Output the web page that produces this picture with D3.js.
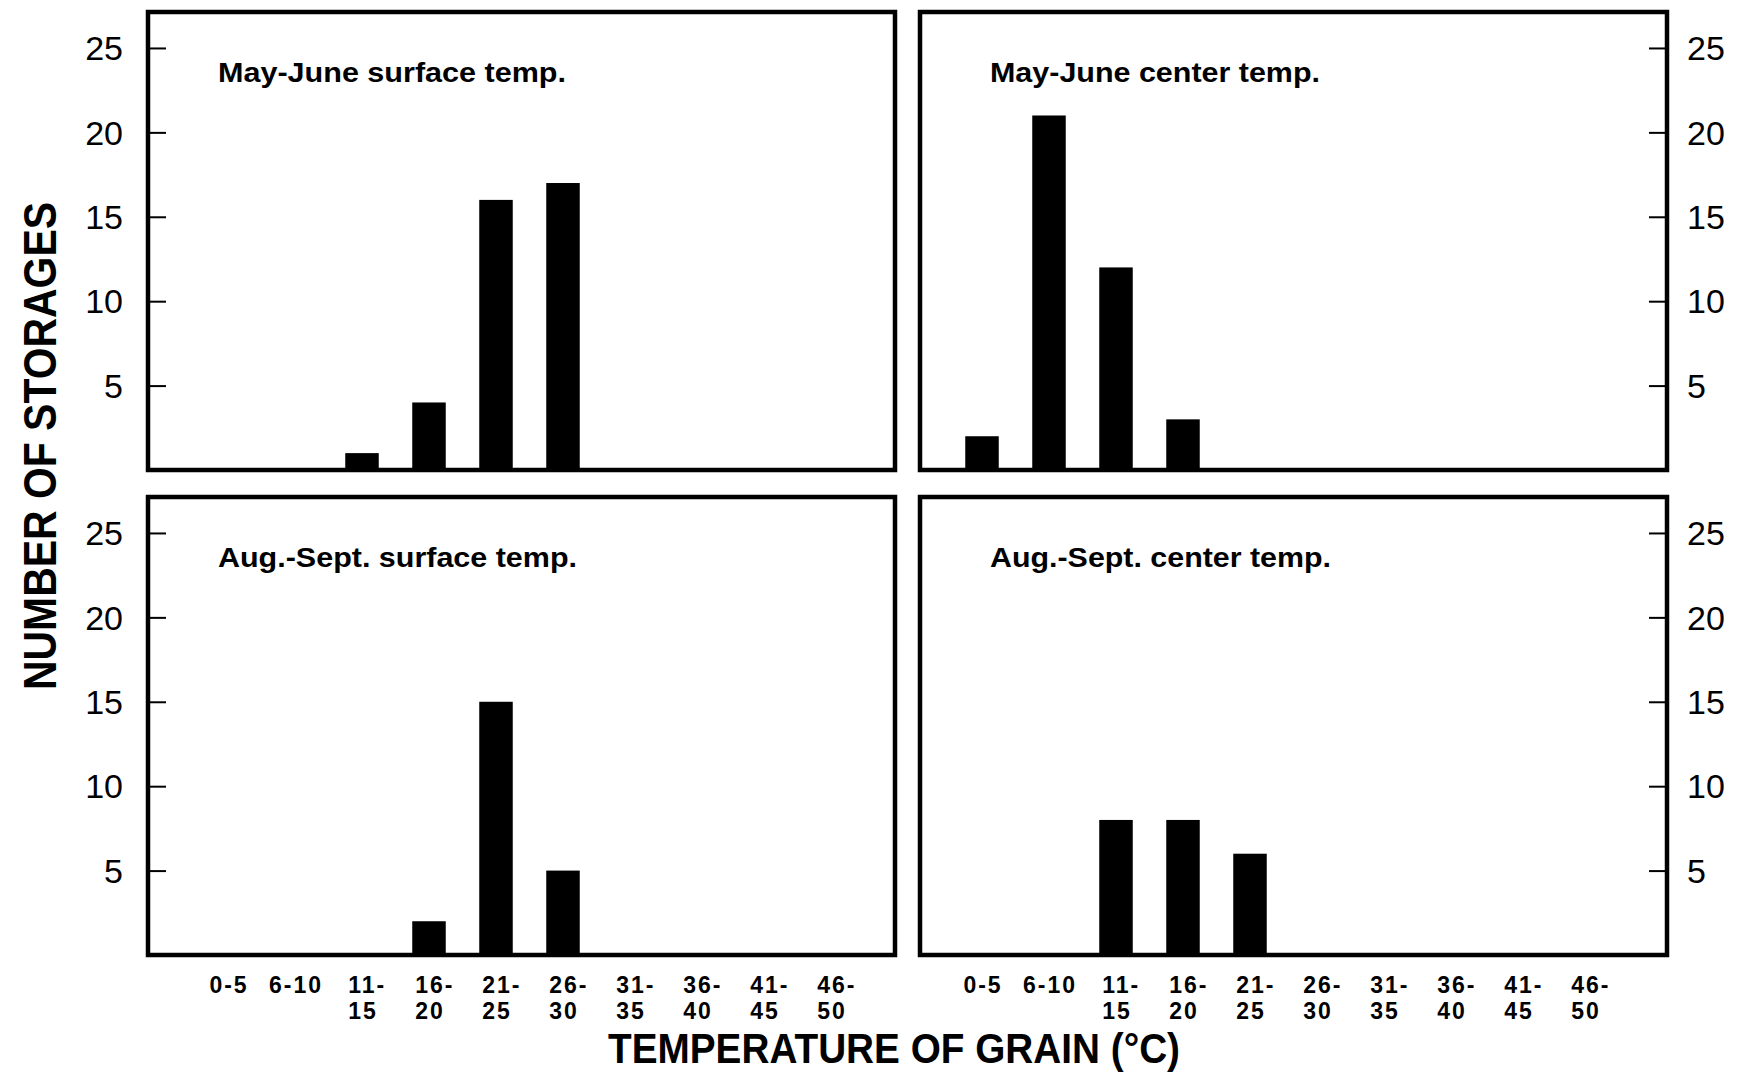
<!DOCTYPE html>
<html>
<head>
<meta charset="utf-8">
<script src="https://cdn.jsdelivr.net/npm/d3@7"></script>
<style>
  body { margin: 0; background: #fff; }
  text { font-family: "Liberation Sans", Arial, Helvetica, sans-serif; fill: #000; }
</style>
</head>
<body>
<div id="chart"></div>
<script>
// temperature classes (deg C)
var categories = ["0-5", "6-10", "11-15", "16-20", "21-25", "26-30", "31-35", "36-40", "41-45", "46-50"];

// number of storages in each class
var mayJuneSurface = [0, 0, 1, 4, 16, 17, 0, 0, 0, 0];
var mayJuneCenter  = [2, 21, 12, 3, 0, 0, 0, 0, 0, 0];
var augSeptSurface = [0, 0, 0, 2, 15, 5, 0, 0, 0, 0];
var augSeptCenter  = [0, 0, 8, 8, 6, 0, 0, 0, 0, 0];

var panelTitles = ["May-June surface temp.", "May-June center temp.",
                   "Aug.-Sept. surface temp.", "Aug.-Sept. center temp."];
var yTicks = [5, 10, 15, 20, 25];

var svgWidth = 1758;
var svgHeight = 1074;

var svg = d3.select("#chart")
  .append("svg")
  .attr("width", svgWidth)
  .attr("height", svgHeight);

// frame of each panel, and where its bars sit
var panels = [
  { values: mayJuneSurface, title: panelTitles[0], left: 148, right: 895, top: 12, bottom: 470, x0: 194.5, axis: "left", titleW: 348 },
  { values: mayJuneCenter,  title: panelTitles[1], left: 920, right: 1667, top: 12, bottom: 470, x0: 948.5, axis: "right", titleW: 330 },
  { values: augSeptSurface, title: panelTitles[2], left: 148, right: 895, top: 497, bottom: 955, x0: 194.5, axis: "left", titleW: 359, xLabels: true },
  { values: augSeptCenter,  title: panelTitles[3], left: 920, right: 1667, top: 497, bottom: 955, x0: 948.5, axis: "right", titleW: 341, xLabels: true }
];

var yMax = 27.13;

panels.forEach(function(p) {
  var g = svg.append("g");

  var x = d3.scaleBand()
    .domain(categories)
    .range([p.x0, p.x0 + 670])
    .paddingInner(0.5)
    .paddingOuter(0.25);

  var y = d3.scaleLinear()
    .domain([0, yMax])
    .range([p.bottom, p.top]);

  var data = categories.map(function(c, i) { return { cat: c, value: p.values[i] }; });

  // bars
  g.selectAll("rect.bar")
    .data(data.filter(function(d) { return d.value > 0; }))
    .enter()
    .append("rect")
    .attr("class", "bar")
    .attr("x", function(d) { return x(d.cat); })
    .attr("width", x.bandwidth())
    .attr("y", function(d) { return y(d.value); })
    .attr("height", function(d) { return y(0) - y(d.value); })
    .attr("fill", "#000");

  // y axis: ticks pointing inward, labels outside the frame
  var axis = p.axis === "left" ? d3.axisRight(y) : d3.axisLeft(y);
  var axisG = g.append("g")
    .attr("transform", "translate(" + (p.axis === "left" ? p.left : p.right) + ",0)")
    .call(axis.tickValues(yTicks).tickSize(18).tickFormat(""));
  axisG.select(".domain").remove();
  axisG.selectAll("line").attr("stroke", "#000").attr("stroke-width", 2);

  g.selectAll("text.ytick")
    .data(yTicks)
    .enter()
    .append("text")
    .attr("class", "ytick")
    .attr("x", p.axis === "left" ? p.left - 25 : p.right + 20)
    .attr("y", function(d) { return y(d); })
    .attr("dy", "0.36em")
    .attr("text-anchor", p.axis === "left" ? "end" : "start")
    .style("font-size", "34px")
    .text(function(d) { return d; });

  // frame
  g.append("rect")
    .attr("x", p.left)
    .attr("y", p.top)
    .attr("width", p.right - p.left)
    .attr("height", p.bottom - p.top)
    .attr("fill", "none")
    .attr("stroke", "#000")
    .attr("stroke-width", 4.5);

  // panel title
  g.append("text")
    .attr("x", p.left + 70)
    .attr("y", p.top + 70)
    .attr("textLength", p.titleW)
    .attr("lengthAdjust", "spacingAndGlyphs")
    .style("font-size", "28px")
    .style("font-weight", "bold")
    .text(p.title);

  // category labels under the lower panels
  if (p.xLabels) {
    categories.forEach(function(c) {
      var cx = x(c) + x.bandwidth() / 2;
      var parts = c.split("-");
      var twoLines = parts[0].length + parts[1].length > 3;
      var lab = g.append("text")
        .style("font-size", "23px")
        .style("font-weight", "bold")
        .style("letter-spacing", "2px");
      if (!twoLines) {
        lab.attr("x", cx + 1).attr("y", 993).attr("text-anchor", "middle").text(c);
      } else {
        var second = g.append("text")
          .attr("x", cx + 1)
          .attr("y", 1019)
          .attr("text-anchor", "middle")
          .style("font-size", "23px")
          .style("font-weight", "bold")
          .style("letter-spacing", "2px")
          .text(parts[1]);
        var w = second.node().getComputedTextLength();
        lab.attr("x", cx + 1 - w / 2).attr("y", 993).text(parts[0] + "-");
      }
    });
  }
});

// axis titles
svg.append("text")
  .attr("transform", "translate(56,446) rotate(-90)")
  .attr("text-anchor", "middle")
  .attr("textLength", 488)
  .attr("lengthAdjust", "spacingAndGlyphs")
  .style("font-size", "46px")
  .style("font-weight", "bold")
  .text("NUMBER OF STORAGES");

svg.append("text")
  .attr("x", 894)
  .attr("y", 1063)
  .attr("text-anchor", "middle")
  .attr("textLength", 572)
  .attr("lengthAdjust", "spacingAndGlyphs")
  .style("font-size", "42px")
  .style("font-weight", "bold")
  .text("TEMPERATURE OF GRAIN (\u00B0C)");
</script>
</body>
</html>
